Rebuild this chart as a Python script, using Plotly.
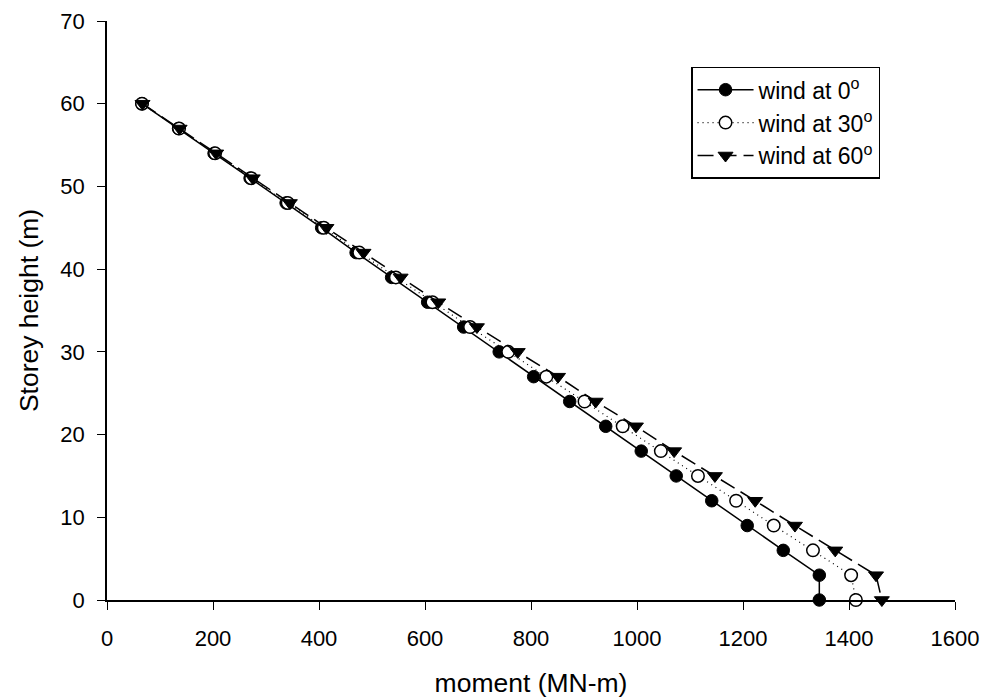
import plotly.graph_objects as go

# Storey heights (m)
storey_height = [60, 57, 54, 51, 48, 45, 42, 39, 36, 33, 30, 27, 24, 21, 18, 15, 12, 9, 6, 3, 0]

# Overturning moment (MN-m) for each wind direction
moment_wind_0 = [66, 135, 202, 270, 338, 405, 470, 537, 605, 673, 740, 805, 873, 941, 1008, 1074, 1141, 1208, 1276, 1344, 1344]
moment_wind_30 = [66, 136, 204, 272, 341, 409, 476, 545, 614, 685, 757, 829, 901, 973, 1045, 1115, 1187, 1258, 1332, 1404, 1413]
moment_wind_60 = [67, 137, 206, 275, 345, 414, 484, 554, 625, 698, 775, 851, 922, 998, 1070, 1147, 1223, 1298, 1374, 1451, 1462]

x_ticks = [0, 200, 400, 600, 800, 1000, 1200, 1400, 1600]
y_ticks = [0, 10, 20, 30, 40, 50, 60, 70]

FONT = "Liberation Sans, Arial, sans-serif"

fig = go.Figure()

fig.add_trace(go.Scatter(
    x=moment_wind_0, y=storey_height, mode="lines+markers",
    name="wind at 0<sup>o</sup>",
    line=dict(color="black", width=1.5, dash="solid"),
    marker=dict(symbol="circle", size=12.5, color="black", line=dict(color="black", width=1)),
    cliponaxis=False,
))
fig.add_trace(go.Scatter(
    x=moment_wind_30, y=storey_height, mode="lines+markers",
    name="wind at 30<sup>o</sup>",
    line=dict(color="black", width=1.2, dash="1px,4px"),
    marker=dict(symbol="circle", size=12.5, color="white", line=dict(color="black", width=1.5)),
    cliponaxis=False,
))
fig.add_trace(go.Scatter(
    x=moment_wind_60, y=storey_height, mode="lines+markers",
    name="wind at 60<sup>o</sup>",
    line=dict(color="black", width=1.5, dash="16px,7px"),
    marker=dict(symbol="triangle-down", size=13, color="black", line=dict(color="black", width=1)),
    cliponaxis=False,
))

fig.update_layout(
    width=986, height=700,
    margin=dict(l=107, r=31, t=21, b=100, autoexpand=False),
    paper_bgcolor="white", plot_bgcolor="white",
    font=dict(family=FONT, size=22, color="black"),
    showlegend=True,
    legend=dict(
        x=0.9116, y=0.921, xanchor="right", yanchor="top",
        bgcolor="white", bordercolor="black", borderwidth=1.5,
        font=dict(family=FONT, size=23, color="black"),
        itemwidth=56, tracegroupgap=0,
    ),
)

fig.update_xaxes(
    range=[0, 1600], tickvals=x_ticks, ticks="outside", ticklen=8, tickwidth=1.2,
    tickcolor="black", showline=True, linecolor="black", linewidth=1.5,
    showgrid=False, zeroline=False, mirror=False, automargin=False,
    ticklabelstandoff=10,
    title=dict(text="moment (MN-m)", standoff=23, font=dict(size=26.5)),
    tickfont=dict(size=22),
)
fig.update_yaxes(
    range=[0, 70], tickvals=y_ticks, ticks="outside", ticklen=8, tickwidth=1.2,
    tickcolor="black", showline=True, linecolor="black", linewidth=1.5,
    showgrid=False, zeroline=False, mirror=False, automargin=False,
    ticklabelstandoff=8,
    title=dict(text="Storey height (m)", standoff=14, font=dict(size=26.5)),
    tickfont=dict(size=22),
)

fig.write_html("out.html")
